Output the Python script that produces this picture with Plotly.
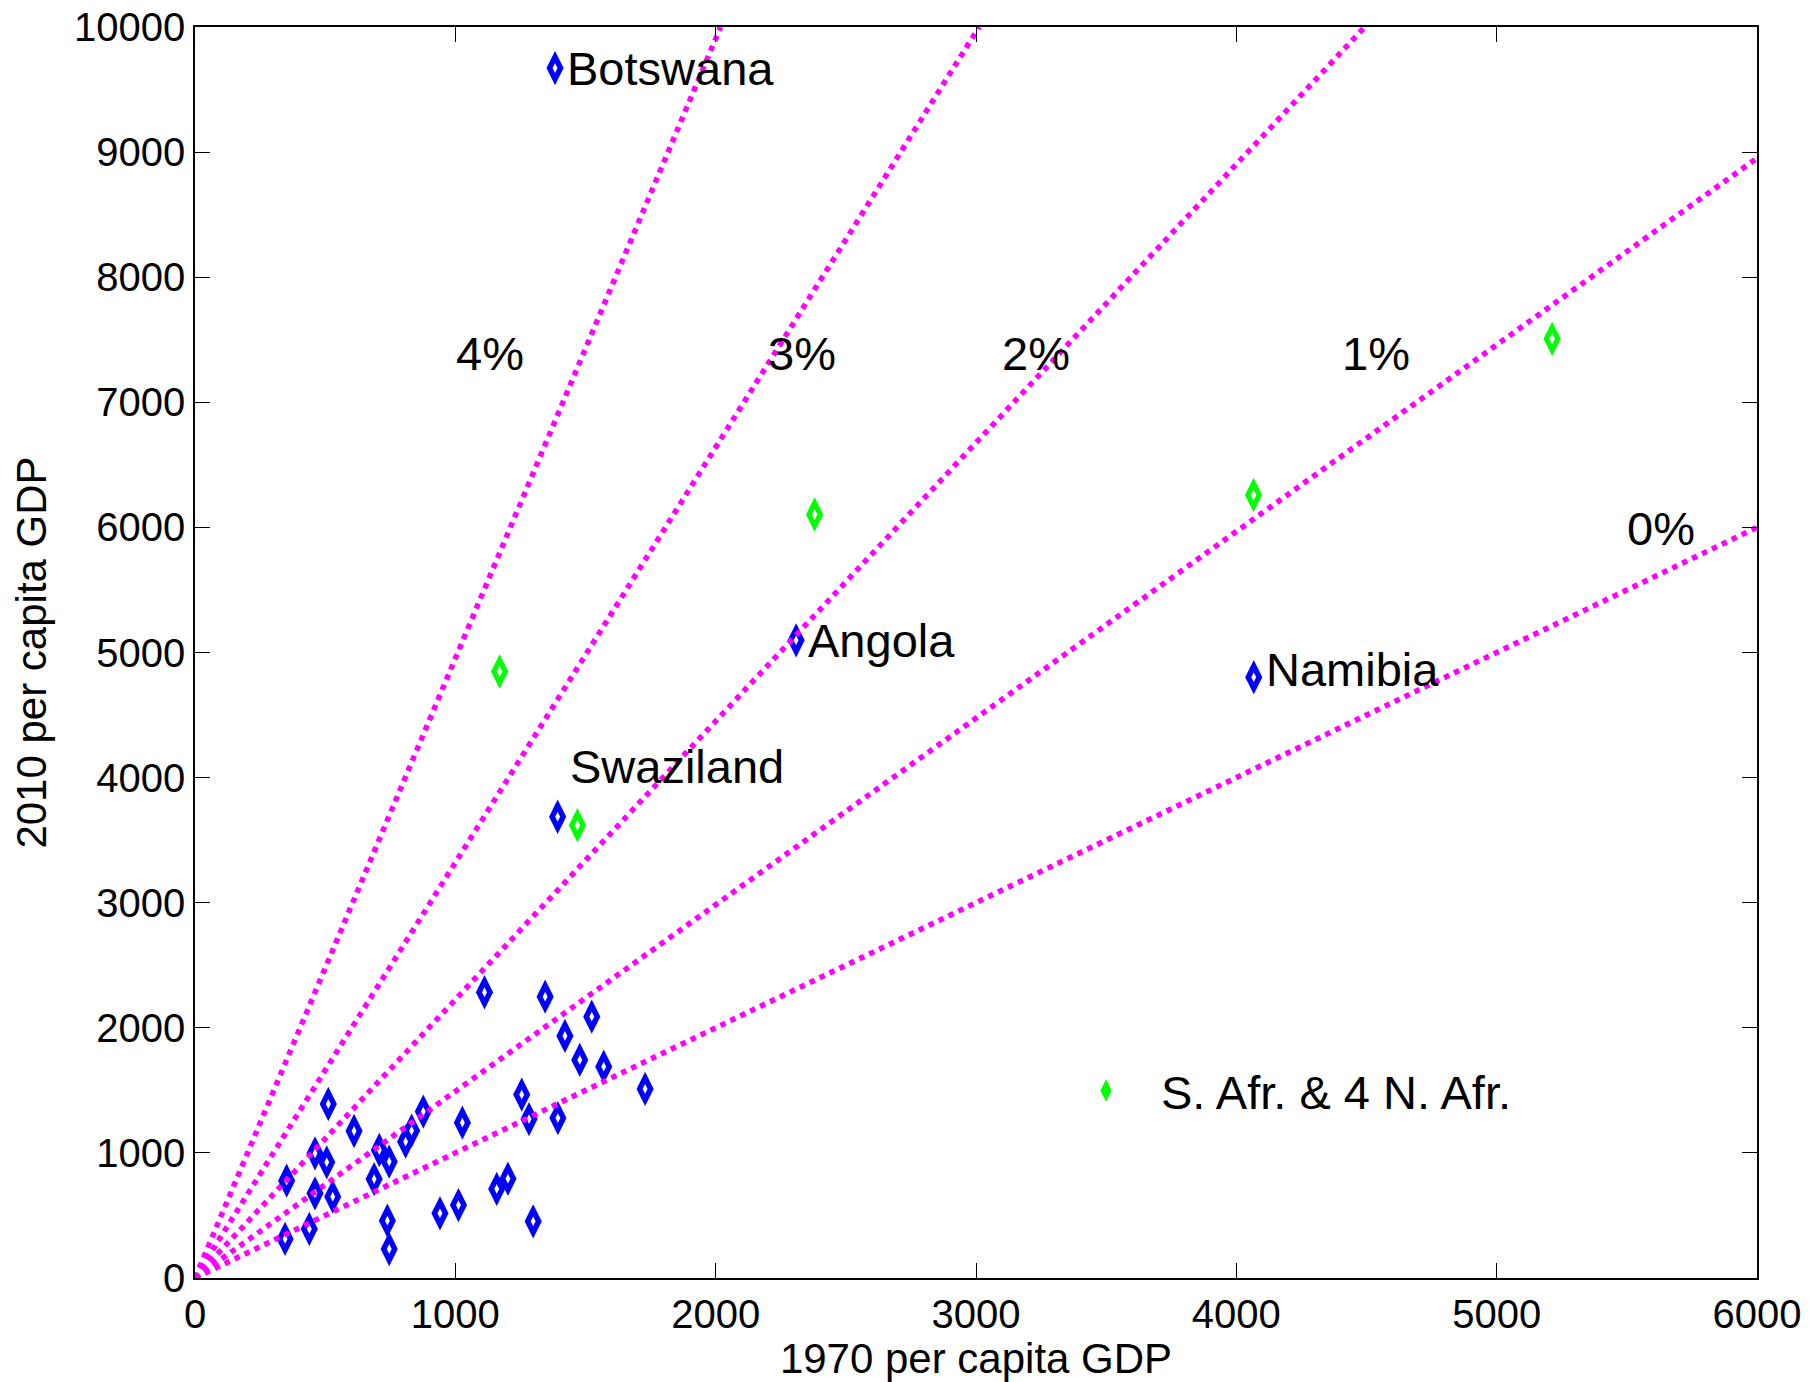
import numpy as np
import plotly.graph_objects as go

# ---------------- data ----------------
# unlabeled sub-Saharan countries (1970 GDP per capita, 2010 GDP per capita)
blue_x = [512, 611, 461, 506, 352, 461, 529, 439, 346, 708, 746, 688, 739, 746,
          877, 832, 809, 1027, 941, 1012, 1159, 1202, 1255, 1283, 1299, 1394,
          1112, 1345, 1524, 1421, 1478, 1570, 1729]
blue_y = [1391, 1175, 997, 925, 778, 677, 650, 392, 312, 1023, 930, 791, 458, 232,
          1330, 1178, 1090, 1242, 517, 583, 712, 794, 1466, 1270, 453, 1278,
          2284, 2249, 2089, 1935, 1743, 1689, 1511]

# labeled countries
named_countries = ["Botswana", "Angola", "Namibia", "Swaziland"]
named_x = [1383, 2309, 4067, 1393]
named_y = [9672, 5097, 4803, 3687]

# South Africa & 4 North African countries
green_x = [1170, 2380, 4066, 5213, 1469]
green_y = [4848, 6103, 6259, 7507, 3619]

# constant growth-rate reference lines (% per year over 1970-2010)
growth_rates = [0, 1, 2, 3, 4]
growth_labels = ["0%", "1%", "2%", "3%", "4%"]
n_years = 40

x_ticks = [0, 1000, 2000, 3000, 4000, 5000, 6000]
y_ticks = [0, 1000, 2000, 3000, 4000, 5000, 6000, 7000, 8000, 9000, 10000]
x_max, y_max = 6000, 10000

# ---------------- layout helpers (positions only) ----------------
rate_label_x = [5632, 4537, 3231, 2331, 1135]
rate_label_y = [5993, 7391, 7391, 7391, 7391]
name_label_x = [1383, 2309, 4067, 1434]
name_label_y = [9672, 5097, 4867, 4087]
name_label_anchor_shift = [10, 10, 10, 0]

FONT = "Liberation Sans, Arial, Helvetica, sans-serif"
BLUE, GREEN, MAGENTA = "#0000FF", "#00FF00", "#FF00FF"
BODY_SIZE, HOLE_SIZE = 24.5, 7

fig = go.Figure()

all_blue_x = blue_x + named_x
all_blue_y = blue_y + named_y


def add_diamonds(xs, ys, color, name, legend, hole):
    # solid tall diamond body with a small white centre (open-diamond look)
    fig.add_trace(go.Scatter(x=xs, y=ys, mode="markers",
                             marker=dict(symbol="diamond-tall", size=BODY_SIZE, color=color,
                                         line=dict(width=0)),
                             showlegend=legend, name=name))
    fig.add_trace(go.Scatter(x=xs, y=ys, mode="markers",
                             marker=dict(symbol="diamond-tall", size=hole, color="white",
                                         line=dict(width=0)),
                             showlegend=False, hoverinfo="skip"))


add_diamonds(all_blue_x, all_blue_y, BLUE, "Sub-Saharan Africa", False, HOLE_SIZE)
add_diamonds(green_x, green_y, GREEN, "S. Afr. & 4 N. Afr.", True, HOLE_SIZE + 1)

for r in growth_rates:
    factor = float(np.exp(r / 100.0 * n_years))
    x_end = min(x_max, y_max / factor)
    fig.add_trace(go.Scatter(x=[0, x_end], y=[0, x_end * factor], mode="lines",
                             line=dict(color=MAGENTA, width=5.5, dash="dot"),
                             showlegend=False, hoverinfo="skip"))

annotations = []
for lbl, lx, ly in zip(growth_labels, rate_label_x, rate_label_y):
    annotations.append(dict(x=lx, y=ly, text=lbl, showarrow=False, xanchor="center",
                            yanchor="middle", font=dict(size=47, color="black", family=FONT)))
for name, lx, ly, sh in zip(named_countries, name_label_x, name_label_y, name_label_anchor_shift):
    annotations.append(dict(x=lx, y=ly, text=name, showarrow=False, xanchor="left",
                            yanchor="middle", xshift=sh,
                            font=dict(size=47, color="black", family=FONT)))

axis_common = dict(
    showgrid=False, zeroline=False, showline=True, linecolor="black", linewidth=1.5,
    mirror="ticks", ticks="inside", ticklen=15, tickwidth=1, tickcolor="black",
    tickformat="d", tickfont=dict(size=40, color="black", family=FONT), automargin=False,
)

fig.update_layout(
    width=1809, height=1382,
    margin=dict(l=195, r=52, t=27, b=104, autoexpand=False),
    paper_bgcolor="white", plot_bgcolor="white",
    font=dict(family=FONT, color="black"),
    xaxis=dict(range=[0, x_max], tickvals=x_ticks, **axis_common,
               title=dict(text="1970 per capita GDP", font=dict(size=42), standoff=4)),
    yaxis=dict(range=[0, y_max], tickvals=y_ticks, **axis_common,
               title=dict(text="2010 per capita GDP", font=dict(size=42), standoff=14)),
    legend=dict(x=0.548, y=0.1495, xanchor="left", yanchor="middle",
                bgcolor="rgba(0,0,0,0)", borderwidth=0, itemwidth=100,
                font=dict(size=47, color="black", family=FONT)),
    annotations=annotations,
    showlegend=True,
)

fig.write_html("out.html")
